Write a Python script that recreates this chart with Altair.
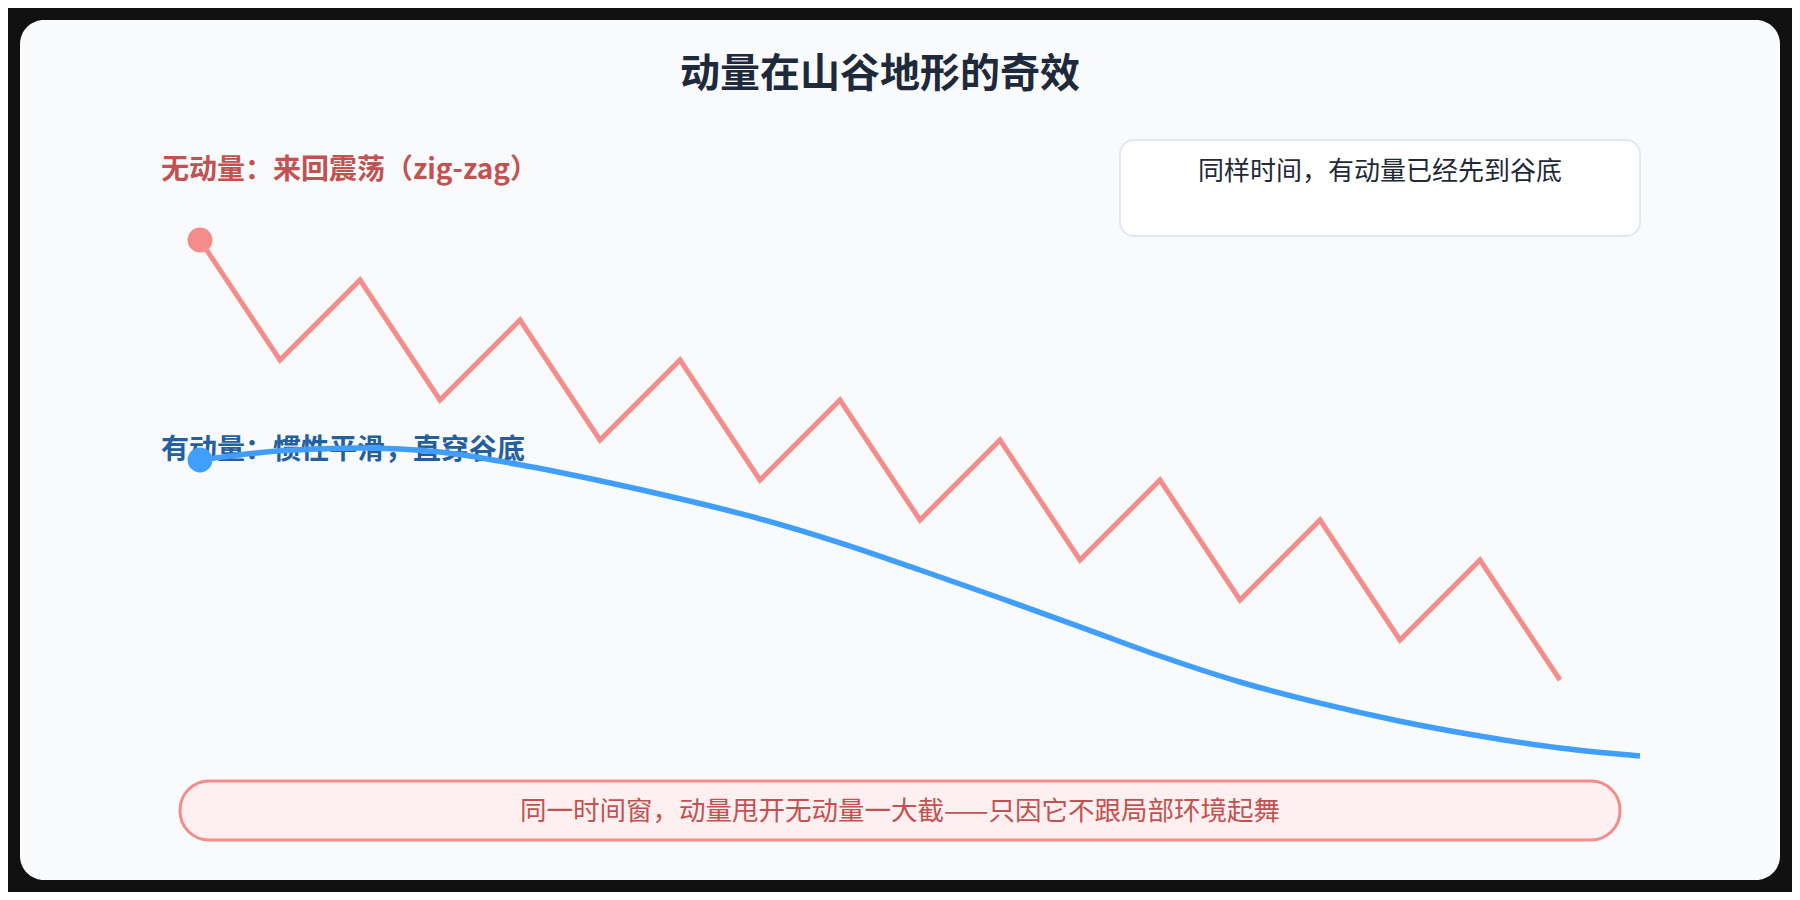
import altair as alt
import pandas as pd

# ---------------- data ----------------
title_text = "动量在山谷地形的奇效"
label_plain = "无动量：来回震荡（zig-zag）"
label_momentum = "有动量：惯性平滑，直穿谷底"
box_text = "同样时间，有动量已经先到谷底"
banner_text = "同一时间窗，动量甩开无动量一大截——只因它不跟局部环境起舞"

steps_plain = list(range(18))
alt_plain = [10, 7, 9, 6, 8, 5, 7, 4, 6, 3, 5, 2, 4, 1, 3, 0, 2, -1]

steps_momentum = list(range(19))
alt_momentum = [4.5, 4.73, 4.8, 4.7, 4.38, 3.98, 3.53, 3.03, 2.43, 1.75,
                1.05, 0.33, -0.4, -1.05, -1.58, -2.03, -2.4, -2.7, -2.9]

FONT = "Noto Sans CJK SC"
RED = "#f58c8c"
BLUE = "#409eff"

df_plain = pd.DataFrame({"step": steps_plain, "alt": alt_plain, "series": "plain"})
df_mom = pd.DataFrame({"step": steps_momentum, "alt": alt_momentum, "series": "momentum"})
one = pd.DataFrame({"k": [0]})

xs = alt.Scale(domain=[-2.4, 19.9], nice=False, zero=False)
ys = alt.Scale(domain=[-6.3, 15.8], nice=False, zero=False)

card = alt.Chart(one).mark_rect(fill="#f8fafc", cornerRadius=24).encode(
    x=alt.value(12), x2=alt.value(1772), y=alt.value(12), y2=alt.value(872))

title = alt.Chart(pd.DataFrame({"t": [title_text]})).mark_text(
    font=FONT, fontSize=40, fontWeight="bold", color="#1e293b",
    align="center", baseline="middle").encode(
    text="t:N", x=alt.value(872), y=alt.value(66.5))

box = alt.Chart(one).mark_rect(fill="#ffffff", stroke="#e2e8f0", strokeWidth=2,
                               cornerRadius=14).encode(
    x=alt.value(1112), x2=alt.value(1632), y=alt.value(132), y2=alt.value(228))

box_t = alt.Chart(pd.DataFrame({"t": [box_text]})).mark_text(
    font=FONT, fontSize=26, color="#1f2937", align="center", baseline="middle").encode(
    text="t:N", x=alt.value(1372), y=alt.value(163.5))

banner = alt.Chart(one).mark_rect(fill="#fef0f0", stroke=RED, strokeWidth=3,
                                  cornerRadius=29).encode(
    x=alt.value(172), x2=alt.value(1612), y=alt.value(773), y2=alt.value(832))

banner_t = alt.Chart(pd.DataFrame({"t": [banner_text]})).mark_text(
    font=FONT, fontSize=26.5, color="#c25252", align="center", baseline="middle").encode(
    text="t:N", x=alt.value(892), y=alt.value(803.5))

lab_red = alt.Chart(pd.DataFrame({"t": [label_plain]})).mark_text(
    font=FONT, fontSize=28, fontWeight="bold", color="#c25252",
    align="left", baseline="middle").encode(
    text="t:N", x=alt.value(153), y=alt.value(162.5))

lab_blue = alt.Chart(pd.DataFrame({"t": [label_momentum]})).mark_text(
    font=FONT, fontSize=28, fontWeight="bold", color="#24609f",
    align="left", baseline="middle").encode(
    text="t:N", x=alt.value(153), y=alt.value(442.5))

line_red = alt.Chart(df_plain).mark_line(color=RED, strokeWidth=5,
                                         strokeJoin="miter").encode(
    x=alt.X("step:Q", scale=xs, axis=None),
    y=alt.Y("alt:Q", scale=ys, axis=None))

line_blue = alt.Chart(df_mom).mark_line(color=BLUE, strokeWidth=5.5,
                                        interpolate="monotone").encode(
    x=alt.X("step:Q", scale=xs, axis=None),
    y=alt.Y("alt:Q", scale=ys, axis=None))

pt_red = alt.Chart(df_plain.head(1)).mark_circle(color=RED, opacity=1, size=620).encode(
    x=alt.X("step:Q", scale=xs, axis=None),
    y=alt.Y("alt:Q", scale=ys, axis=None))

pt_blue = alt.Chart(df_mom.head(1)).mark_circle(color=BLUE, opacity=1, size=620).encode(
    x=alt.X("step:Q", scale=xs, axis=None),
    y=alt.Y("alt:Q", scale=ys, axis=None))

chart = alt.layer(
    card, title, box, box_t, banner, banner_t, lab_red, lab_blue,
    line_red, line_blue, pt_red, pt_blue
).properties(
    width=1784, height=884, padding=0, autosize="none",
    background="#111111",
    usermeta={"embedOptions": {"defaultStyle": "body{margin:8px;background:#111111;overflow:hidden;}"}}
).configure_view(stroke=None)

chart.save("out.html", embed_options={"renderer": "svg", "actions": False})
